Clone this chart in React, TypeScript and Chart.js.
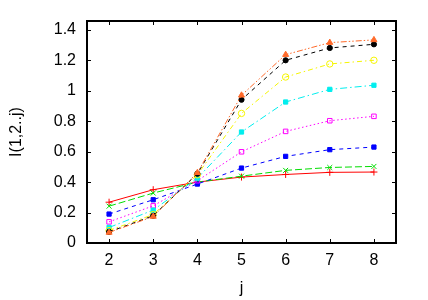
import React, { useEffect, useRef } from "react";
import { Chart, registerables } from "chart.js";

Chart.register(...registerables);

const xValues = [2, 3, 4, 5, 6, 7, 8];
const xTicks = [2, 3, 4, 5, 6, 7, 8];
const yTicks = [0, 0.2, 0.4, 0.6, 0.8, 1, 1.2, 1.4];

const series1 = [0.268, 0.35, 0.4, 0.433, 0.45, 0.464, 0.466];
const series2 = [0.242, 0.328, 0.4, 0.439, 0.477, 0.496, 0.503];
const series3 = [0.19, 0.284, 0.387, 0.492, 0.569, 0.613, 0.63];
const series4 = [0.139, 0.244, 0.409, 0.599, 0.733, 0.803, 0.832];
const series5 = [0.102, 0.216, 0.426, 0.729, 0.926, 1.009, 1.036];
const series6 = [0.082, 0.187, 0.448, 0.851, 1.09, 1.176, 1.2];
const series7 = [0.073, 0.179, 0.455, 0.941, 1.2, 1.281, 1.305];
const series8 = [0.069, 0.174, 0.461, 0.97, 1.237, 1.316, 1.334];

const FONT = "'Liberation Sans', Arial, sans-serif";

const styles = [
  { data: series1, color: "#ff0000", dash: [], point: "cross", fill: "#ff0000", r: 3.5 },
  { data: series2, color: "#00dd00", dash: [7, 3], point: "crossRot", fill: "#00dd00", r: 3.5 },
  { data: series3, color: "#0000ff", dash: [4, 4], point: "rect", fill: "#0000ff", r: 3 },
  { data: series4, color: "#ff00ff", dash: [1.5, 2.5], point: "rect", fill: "rgba(0,0,0,0)", r: 3.2 },
  { data: series5, color: "#00eeee", dash: [7, 3, 1.5, 3], point: "rect", fill: "#00eeee", r: 3 },
  { data: series6, color: "#f5f500", dash: [5, 3, 1.5, 3], point: "circle", fill: "rgba(0,0,0,0)", r: 3.2 },
  { data: series7, color: "#000000", dash: [4, 4], point: "circle", fill: "#000000", r: 2.6 },
  { data: series8, color: "#ff6a2a", dash: [6, 2, 1.5, 2, 1.5, 2], point: "triangle", fill: "#ff6a2a", r: 3.5 },
];

const framePlugin = {
  id: "frame",
  afterDatasetsDraw(chart: any) {
    const { ctx, chartArea } = chart;
    const { left, right, top, bottom } = chartArea;
    const xs = chart.scales.x;
    const ys = chart.scales.y;
    ctx.save();
    ctx.strokeStyle = "#000";
    ctx.lineWidth = 1;
    ctx.beginPath();
    const tl = 4;
    xTicks.forEach((v) => {
      const px = Math.round(xs.getPixelForValue(v)) + 0.5;
      ctx.moveTo(px, bottom);
      ctx.lineTo(px, bottom - tl);
      ctx.moveTo(px, top);
      ctx.lineTo(px, top + tl);
    });
    yTicks.forEach((v) => {
      const py = Math.round(ys.getPixelForValue(v)) + 0.5;
      ctx.moveTo(left, py);
      ctx.lineTo(left + tl, py);
      ctx.moveTo(right, py);
      ctx.lineTo(right - tl, py);
    });
    ctx.stroke();
    ctx.lineWidth = 2;
    ctx.strokeRect(left, top, right - left, bottom - top);
    ctx.restore();
  },
};

export default function App() {
  const ref = useRef<HTMLCanvasElement | null>(null);
  useEffect(() => {
    if (!ref.current) return;
    const n = styles.length;
    const chart = new Chart(ref.current, {
      type: "line",
      data: {
        datasets: styles.map((s, i) => ({
          label: `series ${i + 1}`,
          data: s.data.map((y, k) => ({ x: xValues[k], y })),
          borderColor: s.color,
          borderWidth: 1,
          borderDash: s.dash,
          backgroundColor: s.fill,
          pointStyle: s.point as any,
          pointRadius: s.r,
          pointBorderColor: s.color,
          pointBackgroundColor: s.fill,
          pointBorderWidth: 1,
          fill: false,
          tension: 0,
          order: n - i,
        })),
      },
      options: {
        responsive: false,
        animation: false,
        layout: { padding: { left: 0, top: 21, right: 32, bottom: 0 } },
        plugins: { legend: { display: false }, tooltip: { enabled: false } },
        scales: {
          x: {
            type: "linear",
            min: 1.5,
            max: 8.5,
            afterBuildTicks: (scale: any) => {
              scale.ticks = xTicks.map((v) => ({ value: v }));
            },
            afterFit: (scale: any) => {
              scale.height = 57;
            },
            grid: { display: false, drawTicks: false },
            border: { display: false },
            ticks: {
              padding: 8,
              color: "#000",
              font: { family: FONT, size: 16 },
              maxRotation: 0,
              callback: (v: any) => String(v),
            },
            title: {
              display: true,
              text: "j",
              color: "#000",
              font: { family: FONT, size: 16 },
              padding: { top: 0, bottom: 2 },
            },
          },
          y: {
            type: "linear",
            min: 0,
            max: 1.458,
            afterBuildTicks: (scale: any) => {
              scale.ticks = yTicks.map((v) => ({ value: v }));
            },
            afterFit: (scale: any) => {
              scale.width = 87;
            },
            grid: { display: false, drawTicks: false },
            border: { display: false },
            ticks: {
              padding: 11,
              color: "#000",
              font: { family: FONT, size: 16 },
              callback: (v: any) => String(Math.round(v * 10) / 10),
            },
            title: {
              display: true,
              text: "I(1,2..j)",
              color: "#000",
              font: { family: FONT, size: 16 },
              padding: { top: 7, bottom: 0 },
            },
          },
        },
      },
      plugins: [framePlugin],
    });
    return () => chart.destroy();
  }, []);
  return (
    <div style={{ position: "absolute", left: 0, top: 0, width: 428, height: 300, background: "#fff" }}>
      <canvas ref={ref} width={428} height={300} />
    </div>
  );
}
